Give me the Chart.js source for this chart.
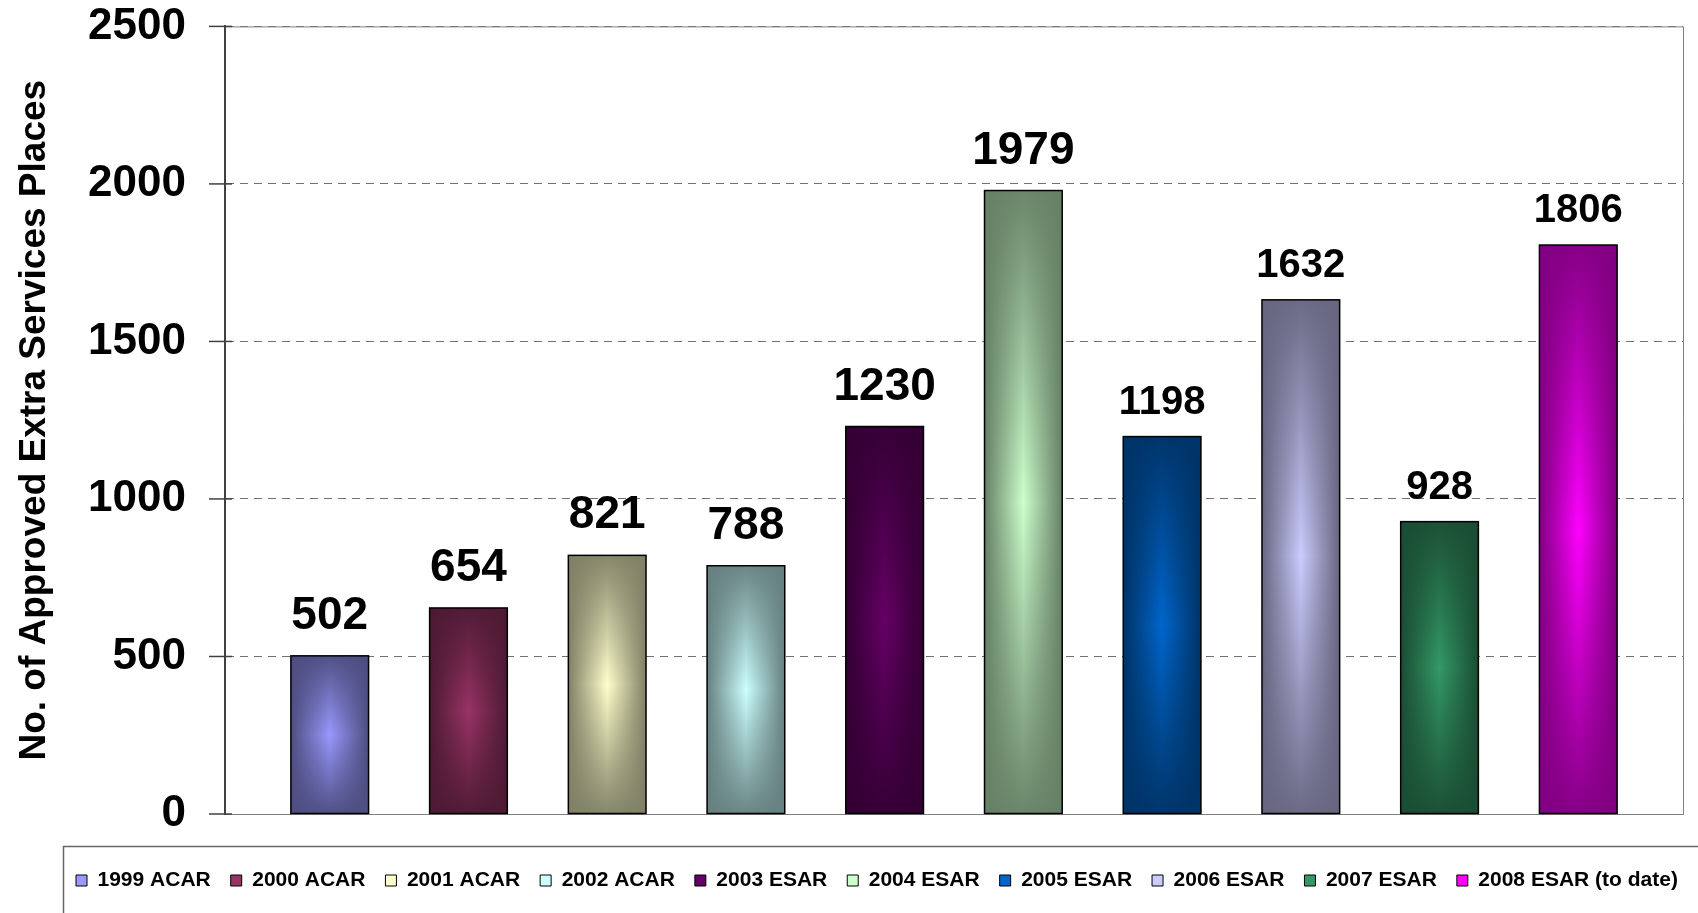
<!DOCTYPE html>
<html>
<head>
<meta charset="utf-8">
<script src="https://cdn.jsdelivr.net/npm/chart.js@4.4.1/dist/chart.umd.min.js"></script>
<style>
  html, body { margin: 0; padding: 0; background: #fff; }
  #wrap { width: 1698px; height: 913px; }
</style>
</head>
<body>
<div id="wrap"><canvas id="placesChart"></canvas></div>
<script>
// values
const categories = ['1999 ACAR', '2000 ACAR', '2001 ACAR', '2002 ACAR', '2003 ESAR',
    '2004 ESAR', '2005 ESAR', '2006 ESAR', '2007 ESAR', '2008 ESAR (to date)'];
const places = [502, 654, 821, 788, 1230, 1979, 1198, 1632, 928, 1806];
const yTicks = [0, 500, 1000, 1500, 2000, 2500];

// styles
const barColors = ['#9999ff', '#993366', '#ffffcc', '#ccffff', '#660066',
    '#ccffcc', '#0066cc', '#ccccff', '#339966', '#ff00ff'];
const edgeColors = ['#4d4d80', '#4d1a33', '#808066', '#668080', '#330033',
    '#668066', '#003366', '#666680', '#1a4d33', '#800080'];
const labelSizes = [46, 46, 46, 46, 46, 46, 40, 40, 40, 40];
const labelLift = [27, 27, 27, 27, 27, 27, 23, 23, 23, 23];

const FONT = "'Liberation Sans', Arial, sans-serif";
const BAR_PCT = 0.56;

function hexRgba(hex, a) {
    let n = parseInt(hex.slice(1), 16);
    return `rgba(${(n >> 16) & 255}, ${(n >> 8) & 255}, ${n & 255}, ${a})`;
}

// bright centre, dark sides
function barFill(c) {
    let chart = c.chart;
    let i = c.dataIndex;
    let x = chart.scales.x;
    if (!chart.chartArea || i === undefined || !x) return barColors[i || 0];
    let px = x.getPixelForValue(i);
    let half = Math.abs(x.getPixelForValue(1) - x.getPixelForValue(0)) * BAR_PCT / 2;
    let g = chart.ctx.createLinearGradient(px - half, 0, px + half, 0);
    g.addColorStop(0, edgeColors[i]);
    g.addColorStop(0.5, barColors[i]);
    g.addColorStop(1, edgeColors[i]);
    return g;
}

const framePlugin = {
    id: 'frame',
    afterLayout(chart) {
        // legend row starts where the boxed legend starts
        chart.legend.left = 56;
    },
    beforeDatasetsDraw(chart) {
        let {ctx, chartArea: a, scales: {y}} = chart;
        ctx.save();
        ctx.strokeStyle = '#808080';
        ctx.lineWidth = 1;
        ctx.beginPath();
        ctx.moveTo(a.left, a.top + 0.5);
        ctx.lineTo(a.right + 0.5, a.top + 0.5);
        ctx.lineTo(a.right + 0.5, a.bottom);
        ctx.stroke();
        // tick marks cross the axis
        ctx.strokeStyle = '#404040';
        ctx.lineWidth = 1.5;
        yTicks.forEach(v => {
            let py = y.getPixelForValue(v);
            ctx.beginPath();
            ctx.moveTo(a.left - 16, py);
            ctx.lineTo(a.left + 7, py);
            ctx.stroke();
        });
        ctx.restore();
    },
    afterDatasetsDraw(chart) {
        let ctx = chart.ctx;
        let meta = chart.getDatasetMeta(0);
        ctx.save();
        meta.data.forEach((bar, i) => {
            let {x, y, base, width} = bar.getProps(['x', 'y', 'base', 'width'], true);
            let left = x - width / 2;
            // darker toward top and bottom
            let g = ctx.createLinearGradient(0, y, 0, base);
            g.addColorStop(0, hexRgba(edgeColors[i], 0.95));
            g.addColorStop(0.5, hexRgba(edgeColors[i], 0));
            g.addColorStop(1, hexRgba(edgeColors[i], 0.95));
            ctx.fillStyle = g;
            ctx.fillRect(left, y, width, base - y);
            ctx.strokeStyle = '#000';
            ctx.lineWidth = 1.5;
            ctx.strokeRect(left, y, width, base - y);

            ctx.fillStyle = '#000';
            ctx.font = `bold ${labelSizes[i]}px ${FONT}`;
            ctx.textAlign = 'center';
            ctx.textBaseline = 'alphabetic';
            ctx.fillText(String(places[i]), x, y - labelLift[i]);
        });
        ctx.restore();
    },
    afterDraw(chart) {
        let ctx = chart.ctx;
        ctx.save();
        ctx.strokeStyle = '#666';
        ctx.lineWidth = 1.5;
        ctx.strokeRect(63.5, 846.5, 1700, 100);
        ctx.restore();
    }
};

let ctx = document.getElementById('placesChart').getContext('2d');

let placesChart = new Chart(ctx, {
    type: 'bar',
    data: {
        datasets: [{
            data: places.map((v, i) => ({x: i, y: v})),
            backgroundColor: barFill,
            borderColor: '#000',
            borderWidth: 0,
            barPercentage: BAR_PCT,
            categoryPercentage: 1
        }]
    },
    options: {
        responsive: true,
        maintainAspectRatio: false,
        animation: false,
        layout: {
            padding: {top: 0, left: 0, right: 0, bottom: 12}
        },
        scales: {
            x: {
                type: 'linear',
                offset: false,
                min: -0.755,
                max: 9.755,
                afterBuildTicks: s => { s.ticks = places.map((v, i) => ({value: i})); },
                ticks: {display: false},
                grid: {display: false, drawTicks: false},
                border: {display: true, color: '#808080', width: 1},
                afterFit: s => { s.height = 36; }
            },
            y: {
                min: 0,
                max: 2500,
                afterBuildTicks: s => { s.ticks = yTicks.map(v => ({value: v})); },
                ticks: {
                    color: '#000',
                    padding: 0,
                    font: {family: FONT, size: 44, weight: 'bold'},
                    callback: v => String(v)
                },
                grid: {
                    color: '#707070',
                    lineWidth: 1,
                    tickLength: 39,
                    tickColor: 'rgba(0,0,0,0)'
                },
                border: {display: true, color: '#404040', width: 2, dash: [8, 6]},
                title: {
                    display: true,
                    text: 'No. of Approved Extra Services Places',
                    color: '#000',
                    font: {family: FONT, size: 37, weight: 'bold', lineHeight: 1},
                    padding: {top: 16, bottom: 0}
                },
                afterFit: s => { s.width = 225; }
            },
            yR: {
                position: 'right',
                ticks: {display: false},
                grid: {display: false, drawTicks: false},
                border: {display: false},
                afterFit: s => { s.width = 15; }
            }
        },
        plugins: {
            legend: {
                position: 'bottom',
                align: 'start',
                onClick: null,
                labels: {
                    boxWidth: 11,
                    boxHeight: 11,
                    padding: 20,
                    color: '#000',
                    font: {family: FONT, size: 21, weight: 'bold'},
                    generateLabels: () => categories.map((c, i) => ({
                        text: c,
                        fillStyle: barColors[i],
                        strokeStyle: '#000',
                        lineWidth: 1,
                        hidden: false,
                        index: i
                    }))
                }
            },
            tooltip: {enabled: false}
        }
    },
    plugins: [framePlugin]
});
</script>
</body>
</html>
